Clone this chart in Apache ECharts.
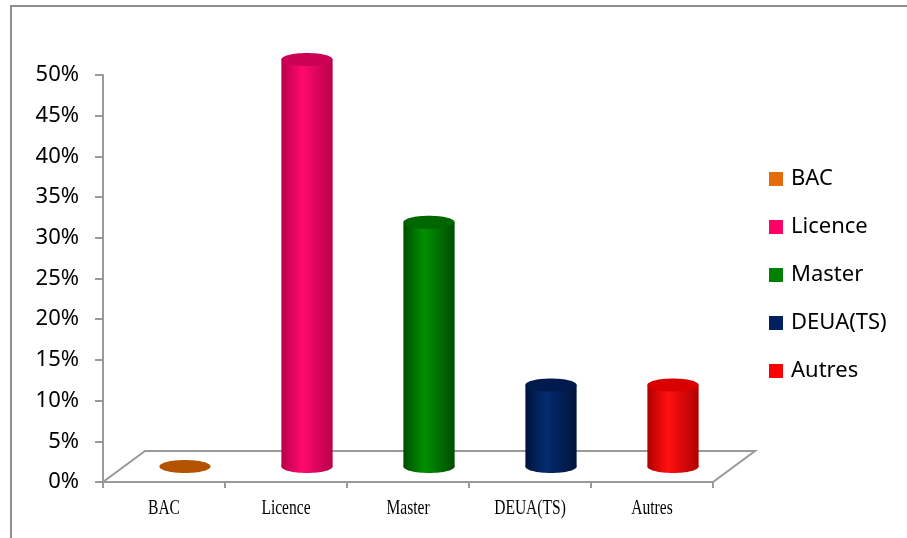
<!DOCTYPE html>
<html>
<head>
<meta charset="utf-8">
<script src="https://cdn.jsdelivr.net/npm/echarts@6/dist/echarts.min.js"></script>
<style>
  html, body { margin: 0; padding: 0; background: #fff; }
  #chart { width: 907px; height: 538px; }
</style>
</head>
<body>
<div id="chart"></div>
<script>
// Diplômes des répondants (part en %)
const categories = ['BAC', 'Licence', 'Master', 'DEUA(TS)', 'Autres'];
const shares = [0, 50, 30, 10, 10];
const yMin = 0, yMax = 50, yStep = 5;

// legend swatch colours
const swatch = ['#E46C0A', '#FF0066', '#008000', '#002060', '#FF0000'];
// cylinder shading: [edge, highlight, cap]
const shade = [
  ['#A04A00', '#C25A00', '#B35300'],
  ['#B8004A', '#FF0A6E', '#CC0055'],
  ['#004D00', '#009000', '#006600'],
  ['#00133A', '#032C70', '#001A4D'],
  ['#B00000', '#FF1010', '#D80000']
];

// perspective offsets of the floor (px): full depth and mid-depth
const FLOOR_DX = 42, FLOOR_DY = -31;
const MID_DX = FLOOR_DX / 2, MID_DY = FLOOR_DY / 2;

function cylinder(idx) {
  return function (params, api) {
    const i = api.value(0), v = api.value(1);
    const base = api.coord([i, 0]);
    const top = api.coord([i, v]);
    const band = api.size([1, 0])[0];
    const rx = band * 0.21, ry = 6.5;
    const cx = base[0] + MID_DX;
    const by = base[1] + MID_DY;
    const ty = top[1] + MID_DY;
    const c = shade[idx];
    const grad = new echarts.graphic.LinearGradient(0, 0, 1, 0, [
      { offset: 0, color: c[0] },
      { offset: 0.4, color: c[1] },
      { offset: 1, color: c[0] }
    ]);
    const children = [];
    if (by - ty > 0.5) {
      children.push({ type: 'ellipse', shape: { cx: cx, cy: by, rx: rx, ry: ry }, style: { fill: grad } });
      children.push({ type: 'rect', shape: { x: cx - rx, y: ty, width: 2 * rx, height: by - ty }, style: { fill: grad } });
    }
    children.push({ type: 'ellipse', shape: { cx: cx, cy: ty, rx: rx, ry: ry }, style: { fill: c[2] } });
    return { type: 'group', children: children };
  };
}

function floor(params, api) {
  const cs = params.coordSys;
  const x0 = cs.x, x1 = cs.x + cs.width, y0 = cs.y + cs.height;
  return {
    type: 'polygon',
    shape: { points: [[x0, y0], [x1, y0], [x1 + FLOOR_DX, y0 + FLOOR_DY], [x0 + FLOOR_DX, y0 + FLOOR_DY]] },
    style: { fill: 'none', stroke: '#9a9a9a', lineWidth: 2 }
  };
}

// condensed serif category names under the floor
function categoryLabel(params, api) {
  const i = api.value(0);
  const p = api.coord([i, 0]);
  return {
    type: 'text',
    x: p[0], y: p[1] + 26,
    scaleX: 0.74,
    style: {
      text: categories[i],
      font: '21px "Liberation Serif"',
      fill: '#000',
      align: 'center',
      verticalAlign: 'middle'
    }
  };
}

const series = [
  {
    type: 'custom', name: '_floor', z: 1, silent: true,
    renderItem: floor, data: [[0, 0]], encode: { x: 0, y: 1 }
  },
  {
    type: 'custom', name: '_labels', z: 1, silent: true,
    renderItem: categoryLabel,
    data: categories.map((c, i) => [i, 0]), encode: { x: 0, y: 1 }
  }
];
categories.forEach((name, i) => {
  series.push({
    type: 'custom', name: name, z: 3,
    itemStyle: { color: swatch[i] },
    renderItem: cylinder(i),
    data: [[i, shares[i]]],
    encode: { x: 0, y: 1 }
  });
});

const chart = echarts.init(document.getElementById('chart'), null, { renderer: 'canvas' });
chart.setOption({
  animation: false,
  backgroundColor: '#fff',
  graphic: [{
    type: 'rect', silent: true, z: 0,
    shape: { x: 11, y: 6, width: 1000, height: 700 },
    style: { fill: 'none', stroke: '#8e8e8e', lineWidth: 2 }
  }],
  grid: { left: 103, right: 194, top: 75, bottom: 56, containLabel: false },
  legend: {
    data: categories,
    orient: 'vertical',
    left: 764, top: 163,
    padding: 5,
    itemWidth: 14, itemHeight: 14, itemGap: 26,
    icon: 'rect',
    textStyle: { fontFamily: 'Noto Sans', fontSize: 22, color: '#000', padding: [0, 0, 0, 3] }
  },
  xAxis: {
    type: 'category',
    data: categories,
    axisLine: { show: true, lineStyle: { color: '#9a9a9a', width: 2 } },
    axisTick: { show: true, length: 6, lineStyle: { color: '#9a9a9a', width: 2 } },
    axisLabel: { show: false },
    splitLine: { show: false }
  },
  yAxis: {
    type: 'value',
    min: yMin, max: yMax, interval: yStep,
    axisLine: { show: true, lineStyle: { color: '#9a9a9a', width: 2 } },
    axisTick: { show: true, length: 8, lineStyle: { color: '#9a9a9a', width: 2 } },
    axisLabel: {
      formatter: '{value}%', margin: 24,
      fontFamily: 'Noto Sans', fontSize: 22, color: '#000'
    },
    splitLine: { show: false }
  },
  series: series
});
</script>
</body>
</html>
